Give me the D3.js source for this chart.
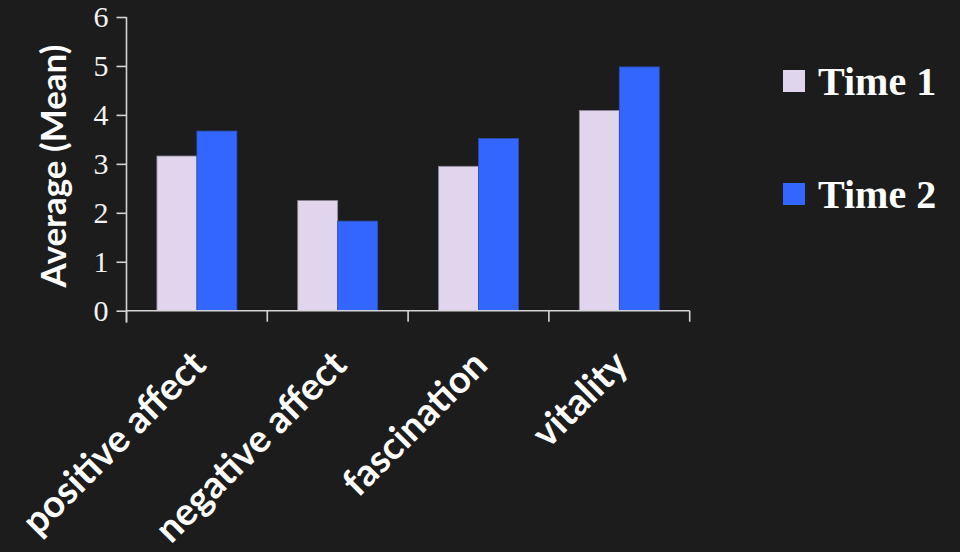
<!DOCTYPE html>
<html><head><meta charset="utf-8">
<script src="https://cdn.jsdelivr.net/npm/d3@7"></script>
<style>html,body{margin:0;padding:0;background:#1c1c1c;}svg{display:block;}</style>
</head><body>
<script>
const categories = ["positive affect", "negative affect", "fascination", "vitality"];
const seriesNames = ["Time 1", "Time 2"];
const time1 = [3.16, 2.25, 2.95, 4.09];
const time2 = [3.67, 1.83, 3.52, 4.98];
const yTicks = [0, 1, 2, 3, 4, 5, 6];
const colors = ["#e1d5ee", "#3366ff"];
const strokes = ["#8c8794", "#2a4fb0"];

const W = 960, H = 552;
const svg = d3.select("body").append("svg").attr("width", W).attr("height", H);
svg.append("rect").attr("width", W).attr("height", H).attr("fill", "#1c1c1c");

const x0 = d3.scaleBand().domain(categories).range([126.5, 689.7]).paddingInner(0.432).paddingOuter(0.216);
const x1 = d3.scaleBand().domain(seriesNames).range([0, x0.bandwidth()]);
const y = d3.scaleLinear().domain([0, 6]).range([310.7, 17]);

const data = categories.map((c, i) => ({cat: c, vals: [time1[i], time2[i]]}));

const axisColor = "#d4d4d4";
// bars
const g = svg.append("g");
data.forEach(d => {
  d.vals.forEach((v, j) => {
    g.append("rect")
      .attr("x", x0(d.cat) + x1(seriesNames[j]))
      .attr("y", y(v))
      .attr("width", x1.bandwidth())
      .attr("height", y(0) - y(v))
      .attr("fill", colors[j])
      .attr("stroke", strokes[j])
      .attr("stroke-width", 0.8);
  });
});

// y axis
const yAxis = svg.append("g").attr("transform", "translate(126.5,0)")
  .call(d3.axisLeft(y).tickValues(yTicks).tickSize(10).tickPadding(8).tickFormat(d3.format("d")));
yAxis.select(".domain").attr("d", `M0,${y(6)}V${y(0) + 12}`).attr("stroke", axisColor).attr("stroke-width", 1.6);
yAxis.selectAll(".tick line").attr("stroke", axisColor).attr("stroke-width", 1.6);
yAxis.selectAll(".tick text").attr("fill", "#f2f2f2")
  .style("font-family", "'Liberation Serif','Times New Roman',serif").style("font-size", "30px");

// x axis
const step = x0.step();
const boundaries = d3.range(categories.length + 1).map(i => 126.5 + i * step);
const xAxisG = svg.append("g");
xAxisG.append("line").attr("x1", 126.5).attr("x2", 689.7).attr("y1", y(0)).attr("y2", y(0))
  .attr("stroke", axisColor).attr("stroke-width", 1.6);
xAxisG.selectAll("line.tk").data(boundaries).join("line").attr("class", "tk")
  .attr("x1", d => d).attr("x2", d => d).attr("y1", y(0)).attr("y2", y(0) + 11)
  .attr("stroke", axisColor).attr("stroke-width", 1.6);

// category labels
svg.append("g").selectAll("text").data(categories).join("text")
  .attr("transform", d => `translate(${x0(d) + x0.bandwidth() / 2 + 11},367) rotate(-45)`)
  .attr("text-anchor", "end")
  .attr("fill", "#ffffff")
  .style("font-family", "Lato, 'Open Sans', sans-serif").style("font-weight", "bold").style("font-size", "38px")
  .text(d => d);

// y title
svg.append("text")
  .attr("transform", "translate(66,166) rotate(-90)")
  .attr("text-anchor", "middle")
  .attr("fill", "#ffffff")
  .style("font-family", "Lato, 'Open Sans', sans-serif").style("font-weight", "bold").style("font-size", "35px")
  .text("Average (Mean)");

// legend
const legendY = [70, 183];
const lg = svg.append("g");
seriesNames.forEach((s, j) => {
  lg.append("rect").attr("x", 783).attr("y", legendY[j]).attr("width", 22).attr("height", 22).attr("fill", colors[j]);
  lg.append("text").attr("x", 818).attr("y", legendY[j] + 25)
    .attr("fill", "#ffffff")
    .style("font-family", "'Liberation Serif','Times New Roman',serif").style("font-weight", "bold").style("font-size", "40px")
    .text(s);
});
</script>
</body></html>
